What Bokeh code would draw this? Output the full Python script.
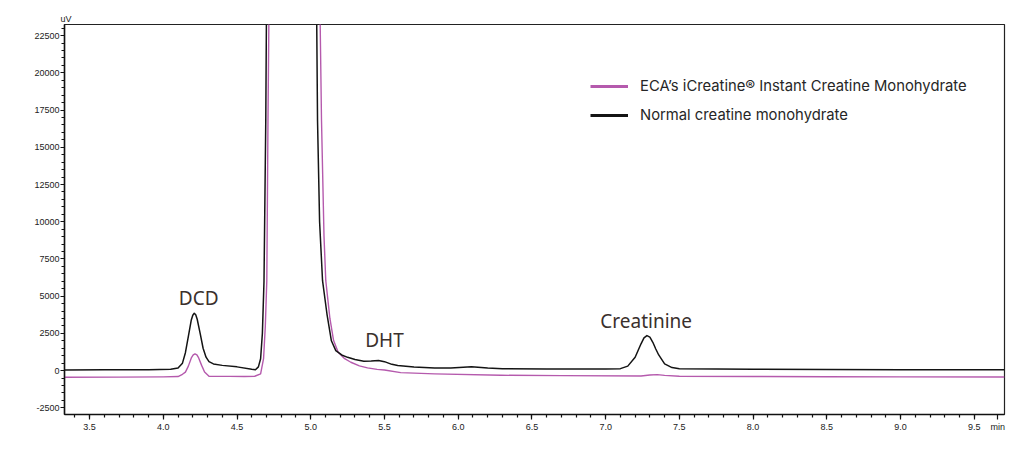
from bokeh.core.properties import value
from bokeh.embed import file_html
from bokeh.models import (ColumnDataSource, FixedTicker, Legend, LegendItem,
                          NumeralTickFormatter, Range1d, SingleIntervalTicker, Title)
from bokeh.plotting import figure
from bokeh.resources import INLINE

# retention time (min) and signal (uV)
normal_t = [3.33, 3.60, 3.90, 4.05, 4.10, 4.13, 4.15, 4.17, 4.19, 4.20,
            4.21, 4.22, 4.23, 4.25, 4.27, 4.29, 4.31, 4.34, 4.40, 4.50,
            4.60, 4.625, 4.645, 4.66, 4.672, 4.683, 4.695, 4.70, 4.80, 4.90,
            5.00, 5.04, 5.046, 5.06, 5.08, 5.11, 5.14, 5.17, 5.21, 5.25,
            5.30, 5.36, 5.41, 5.46, 5.50, 5.55, 5.59, 5.70, 5.84, 5.95,
            6.09, 6.20, 6.30, 6.60, 7.00, 7.10, 7.15, 7.20, 7.22, 7.24,
            7.26, 7.28, 7.30, 7.32, 7.34, 7.36, 7.40, 7.45, 7.50, 8.00,
            8.50, 9.00, 9.705]
normal_uv = [40, 50, 60, 90, 180, 500, 1200, 2300, 3400, 3720,
             3850, 3750, 3450, 2500, 1500, 900, 600, 450, 350, 250,
             90, 60, 250, 800, 2500, 6000, 16800, 24500, 60000, 65000,
             40000, 24000, 16800, 10000, 6040, 3800, 2000, 1340, 1050, 890,
             740, 630, 640, 680, 600, 420, 335, 240, 180, 170,
             250, 170, 120, 110, 110, 130, 300, 900, 1350, 1800,
             2200, 2350, 2250, 1900, 1450, 1050, 450, 200, 120, 90,
             70, 60, 50]

eca_t = [3.33, 3.70, 4.00, 4.10, 4.13, 4.15, 4.17, 4.19, 4.203, 4.215,
         4.228, 4.24, 4.26, 4.28, 4.31, 4.35, 4.45, 4.55, 4.62, 4.66,
         4.68, 4.692, 4.702, 4.71, 4.717, 4.82, 4.95, 5.03, 5.063, 5.073,
         5.09, 5.102, 5.13, 5.155, 5.186, 5.23, 5.272, 5.33, 5.385, 5.45,
         5.50, 5.61, 5.84, 6.29, 6.70, 7.24, 7.30, 7.35, 7.40, 7.50,
         8.00, 8.50, 9.00, 9.705]
eca_uv = [-450, -440, -420, -400, -250, -100, 300, 850, 1050, 1120,
          1050, 850, 350, -100, -380, -390, -390, -400, -380, -220,
          800, 3000, 6040, 16800, 24500, 60000, 65000, 40000, 24000, 16800,
          9000, 6040, 3500, 2015, 1230, 800, 560, 320, 180, 80,
          40, -140, -220, -315, -340, -360, -300, -270, -320, -380,
          -400, -410, -420, -430]

peak_names = ["DCD", "DHT", "Creatinine"]
peak_label_t = [4.24, 5.50, 7.275]
peak_label_uv = [4900, 2080, 3360]

# x ticks; the last one only carries the "min" unit text
x_major_ticks = [3.5, 4.0, 4.5, 5.0, 5.5, 6.0, 6.5, 7.0, 7.5, 8.0, 8.5, 9.0, 9.5, 9.66]
x_minor_ticks = [round(3.4 + 0.1 * i, 1) for i in range(62)]

x_start, x_end = 3.33, 9.705
y_start, y_end = -2950, 23250

ECA_COLOR = "#b55aad"
NORMAL_COLOR = "#141414"

p = figure(width=1022, height=448, output_backend="svg", toolbar_location=None,
           x_range=Range1d(x_start, x_end), y_range=Range1d(y_start, y_end),
           min_border_left=64, min_border_right=18, min_border_top=24,
           min_border_bottom=34)
p.grid.visible = False
p.outline_line_color = "#222222"
p.outline_line_width = 1.2
p.background_fill_color = "white"
p.border_fill_color = "white"

# unit of the y axis, sitting just above the frame
p.title = Title(text="uV", align="left", offset=-4, standoff=1,
                text_font="Liberation Sans", text_font_size="9px",
                text_font_style="normal", text_color="#222222")

eca_src = ColumnDataSource(data=dict(t=eca_t, uv=eca_uv))
normal_src = ColumnDataSource(data=dict(t=normal_t, uv=normal_uv))
p.line("t", "uv", source=eca_src, line_color=ECA_COLOR, line_width=1.4,
       line_join="round")
p.line("t", "uv", source=normal_src, line_color=NORMAL_COLOR, line_width=1.5,
       line_join="round")

# invisible renderers only for the thicker legend swatches
nan = float("nan")
leg_eca = p.line([nan], [nan], line_color=ECA_COLOR, line_width=3)
leg_normal = p.line([nan], [nan], line_color=NORMAL_COLOR, line_width=3)
legend = Legend(items=[
    LegendItem(label="ECA\u2019s iCreatine\u00ae Instant Creatine Monohydrate", renderers=[leg_eca]),
    LegendItem(label="Normal creatine monohydrate", renderers=[leg_normal]),
], location=(526, 289), glyph_width=38, glyph_height=20, label_height=20,
    label_standoff=12, spacing=9, padding=0, margin=0,
    border_line_color=None, background_fill_alpha=0,
    label_text_font="Inter", label_text_font_size="14.8px",
    label_text_color="#262626")
p.add_layout(legend)

# axes
p.xaxis.ticker = FixedTicker(ticks=x_major_ticks, minor_ticks=x_minor_ticks)
p.xaxis.formatter = NumeralTickFormatter(format="0.0")
p.xaxis.major_label_overrides = {9.66: "min"}
p.yaxis.ticker = SingleIntervalTicker(interval=2500, num_minor_ticks=5)
p.yaxis.formatter = NumeralTickFormatter(format="0")
for ax in (p.xaxis, p.yaxis):
    ax.axis_line_color = "#111111"
    ax.axis_line_width = 1.5
    ax.major_tick_line_color = "#111111"
    ax.minor_tick_line_color = "#111111"
    ax.major_tick_line_width = 1.2
    ax.minor_tick_line_width = 1.2
    ax.major_tick_in = 0
    ax.minor_tick_in = 0
    ax.major_label_text_font = "Liberation Sans"
    ax.major_label_text_font_size = "9px"
    ax.major_label_text_color = "#222222"
p.xaxis.major_tick_out = 5
p.xaxis.minor_tick_out = 3
p.xaxis.major_label_standoff = 2
p.yaxis.major_tick_out = 4
p.yaxis.minor_tick_out = 3
p.yaxis.major_label_standoff = 1

# peak names
label_src = ColumnDataSource(data=dict(t=peak_label_t, uv=peak_label_uv, name=peak_names))
p.text("t", "uv", text="name", source=label_src, text_align="center",
       text_baseline="middle", text_font=value("Noto Sans"),
       text_font_size="19px", text_color="#3a302c")

open("out.html", "w").write(file_html(p, INLINE))
